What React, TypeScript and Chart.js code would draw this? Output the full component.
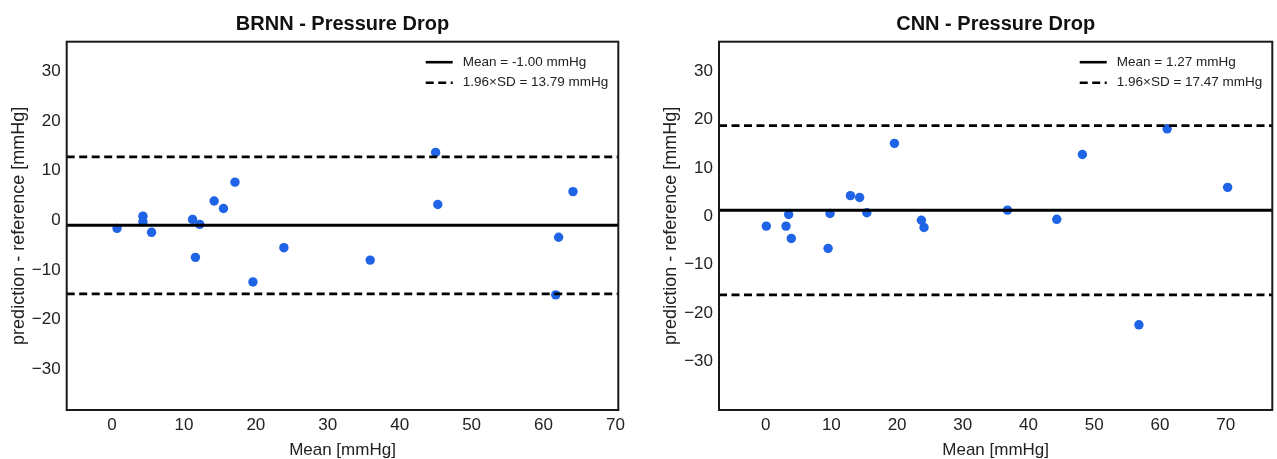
import React, { useEffect, useRef } from 'react';
import { Chart, registerables } from 'chart.js';

Chart.register(...registerables);

// ---------- data ----------
const xTicks = [0, 10, 20, 30, 40, 50, 60, 70];
const yTicks = [-30, -20, -10, 0, 10, 20, 30];

const brnnTitle = 'BRNN - Pressure Drop';
const brnnMeanX = [0.7, 4.3, 4.3, 5.5, 11.2, 12.2, 11.6, 14.2, 15.5, 17.1, 19.6, 23.9, 35.9, 45.0, 45.3, 61.7, 62.1, 64.1];
const brnnDiff = [-1.6, 0.85, -0.3, -2.4, 0.2, -0.8, -7.45, 3.9, 2.4, 7.7, -12.4, -5.5, -8.0, 13.7, 3.2, -15.0, -3.4, 5.8];
const brnnBias = -1.0;
const brnnLoA = 13.79;
const brnnXRange = [-6.3, 70.4];
const brnnYRange = [-38.2, 36.0];

const cnnTitle = 'CNN - Pressure Drop';
const cnnMeanX = [0.1, 3.1, 3.5, 3.9, 9.8, 9.5, 12.9, 14.3, 15.4, 19.6, 23.7, 24.1, 36.8, 44.3, 48.2, 56.8, 61.1, 70.3];
const cnnDiff = [-2.0, -2.0, 0.4, -4.55, 0.6, -6.6, 4.3, 3.9, 0.75, 15.1, -0.8, -2.3, 1.3, -0.6, 12.8, -22.4, 18.1, 6.0];
const cnnBias = 1.27;
const cnnLoA = 17.47;
const cnnXRange = [-7.1, 77.1];
const cnnYRange = [-40.0, 36.1];

const xTitle = 'Mean [mmHg]';
const yTitle = 'prediction - reference [mmHg]';

// ---------- helpers ----------
const FONT = '"Liberation Sans", Arial, "Noto Sans", sans-serif';
const TEXT = '#222222';
const fmtTick = (v: number) => (v < 0 ? '\u2212' + Math.abs(v) : String(v));

const framePlugin = {
  id: 'frame',
  afterDatasetsDraw(chart: any) {
    const { ctx, chartArea: a } = chart;
    ctx.save();
    ctx.strokeStyle = '#1a1a1a';
    ctx.lineWidth = 2;
    ctx.strokeRect(a.left, a.top, a.right - a.left, a.bottom - a.top);
    ctx.restore();
  },
};

const insideLegendPlugin = {
  id: 'insideLegend',
  afterDraw(chart: any, _args: any, opts: any) {
    const items = opts.items || [];
    if (!items.length) return;
    const { ctx, chartArea: a } = chart;
    ctx.save();
    ctx.font = `13.5px ${FONT}`;
    let maxW = 0;
    items.forEach((it: any) => (maxW = Math.max(maxW, ctx.measureText(it.label).width)));
    const textX = a.right - 10 - maxW;
    const lineEnd = textX - 10;
    const lineStart = lineEnd - 27;
    items.forEach((it: any, i: number) => {
      const y = a.top + 20.5 + i * 20.5;
      ctx.beginPath();
      ctx.strokeStyle = '#000';
      ctx.lineWidth = 2.6;
      ctx.setLineDash(it.dash || []);
      ctx.moveTo(lineStart, y);
      ctx.lineTo(lineEnd, y);
      ctx.stroke();
      ctx.setLineDash([]);
      ctx.fillStyle = TEXT;
      ctx.textAlign = 'left';
      ctx.textBaseline = 'middle';
      ctx.fillText(it.label, textX, y);
    });
    ctx.restore();
  },
};

const DASH = [8, 4.5];

type PanelProps = {
  title: string;
  xs: number[];
  ys: number[];
  bias: number;
  loa: number;
  xRange: number[];
  yRange: number[];
  width: number;
  padLeft: number;
  padRight: number;
};

function BlandAltman(p: PanelProps) {
  const ref = useRef<HTMLCanvasElement | null>(null);
  useEffect(() => {
    if (!ref.current) return;
    const meanLabel = `Mean = ${p.bias.toFixed(2)} mmHg`;
    const loaLabel = `1.96\u00D7SD = ${p.loa.toFixed(2)} mmHg`;
    const hline = (y: number) => [
      { x: p.xRange[0], y },
      { x: p.xRange[1], y },
    ];
    const chart = new Chart(ref.current, {
      type: 'scatter',
      data: {
        datasets: [
          {
            type: 'scatter',
            label: 'points',
            data: p.xs.map((x, i) => ({ x, y: p.ys[i] })),
            backgroundColor: '#1f63e6',
            borderWidth: 0,
            pointRadius: 4.7,
            order: 2,
          } as any,
          {
            type: 'line',
            label: meanLabel,
            data: hline(p.bias),
            borderColor: '#000',
            borderWidth: 3,
            pointRadius: 0,
            order: 1,
          },
          {
            type: 'line',
            label: loaLabel,
            data: hline(p.bias + p.loa),
            borderColor: '#000',
            borderWidth: 2.8,
            borderDash: DASH,
            pointRadius: 0,
            order: 1,
          },
          {
            type: 'line',
            label: '',
            data: hline(p.bias - p.loa),
            borderColor: '#000',
            borderWidth: 2.8,
            borderDash: DASH,
            pointRadius: 0,
            order: 1,
          },
        ],
      },
      options: {
        animation: false,
        responsive: false,
        devicePixelRatio: 1,
        events: [],
        layout: { padding: { left: p.padLeft, right: p.padRight, top: 0, bottom: 0 } },
        plugins: {
          legend: { display: false },
          tooltip: { enabled: false },
          title: {
            display: true,
            text: p.title,
            fullSize: false,
            color: '#111',
            font: { family: FONT, size: 20, weight: 'bold', lineHeight: 1.2 },
            padding: { top: 12, bottom: 5.7 },
          },
          insideLegend: {
            items: [
              { label: meanLabel, dash: [] },
              { label: loaLabel, dash: DASH },
            ],
          },
        } as any,
        scales: {
          x: {
            type: 'linear',
            min: p.xRange[0],
            max: p.xRange[1],
            grid: { display: false, drawTicks: false },
            border: { display: false },
            afterBuildTicks: (s: any) => {
              s.ticks = xTicks.map((v) => ({ value: v }));
            },
            afterFit: (s: any) => {
              s.height = 49;
            },
            ticks: {
              padding: 5,
              color: TEXT,
              font: { family: FONT, size: 17 },
              maxRotation: 0,
              autoSkip: false,
              callback: (v: any) => fmtTick(Number(v)),
            },
            title: {
              display: true,
              text: xTitle,
              color: TEXT,
              font: { family: FONT, size: 17, lineHeight: 1 },
              padding: { top: 0, bottom: 0.5 },
            },
          },
          y: {
            type: 'linear',
            min: p.yRange[0],
            max: p.yRange[1],
            grid: { display: false, drawTicks: false },
            border: { display: false },
            afterBuildTicks: (s: any) => {
              s.ticks = yTicks.map((v) => ({ value: v }));
            },
            afterFit: (s: any) => {
              s.width = 66.7;
            },
            ticks: {
              padding: 6,
              color: TEXT,
              font: { family: FONT, size: 17 },
              autoSkip: false,
              callback: (v: any) => fmtTick(Number(v)),
            },
            title: {
              display: true,
              text: yTitle,
              color: TEXT,
              font: { family: FONT, size: 18, lineHeight: 1.2 },
              padding: { top: 8.4, bottom: 0 },
            },
          },
        },
      } as any,
      plugins: [framePlugin, insideLegendPlugin],
    });
    return () => chart.destroy();
  }, []);
  return <canvas ref={ref} width={p.width} height={459} style={{ display: 'block', width: p.width, height: 459 }} />;
}

export default function App() {
  return (
    <div style={{ position: 'absolute', left: 0, top: 0, width: 1277, height: 459, display: 'flex', background: '#fff' }}>
      <BlandAltman
        title={brnnTitle}
        xs={brnnMeanX}
        ys={brnnDiff}
        bias={brnnBias}
        loa={brnnLoA}
        xRange={brnnXRange}
        yRange={brnnYRange}
        width={640}
        padLeft={0}
        padRight={21.7}
      />
      <BlandAltman
        title={cnnTitle}
        xs={cnnMeanX}
        ys={cnnDiff}
        bias={cnnBias}
        loa={cnnLoA}
        xRange={cnnXRange}
        yRange={cnnYRange}
        width={637}
        padLeft={12.3}
        padRight={1.7}
      />
    </div>
  );
}
